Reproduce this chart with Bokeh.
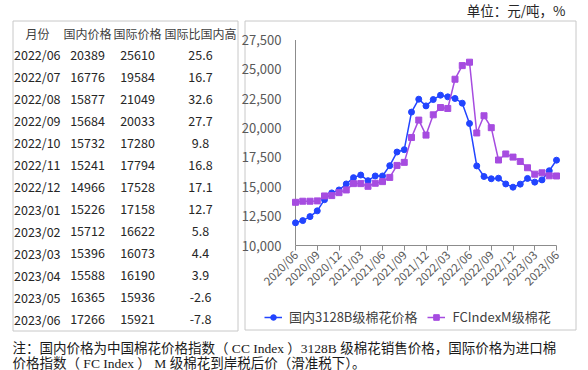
import math
from bokeh.plotting import figure
from bokeh.models import Range1d, FixedTicker, NumeralTickFormatter
from bokeh.core.properties import value
from bokeh.embed import file_html
from bokeh.resources import INLINE

# ---------------- data ----------------
table_header = ["月份", "国内价格", "国际价格", "国际比国内高"]
table_months = ["2022/06", "2022/07", "2022/08", "2022/09", "2022/10", "2022/11", "2022/12",
                "2023/01", "2023/02", "2023/03", "2023/04", "2023/05", "2023/06"]
table_domestic = [20389, 16776, 15877, 15684, 15732, 15241, 14966, 15226, 15712, 15396, 15588, 16365, 17266]
table_intl = [25610, 19584, 21049, 20033, 17280, 17794, 17528, 17158, 16622, 16073, 16190, 15936, 15921]
table_diff = ["25.6", "16.7", "32.6", "27.7", "9.8", "16.8", "17.1", "12.7", "5.8", "4.4", "3.9", "-2.6", "-7.8"]

# chart series 2020/06 .. 2022/05, then the table months
domestic_early = [11930, 12120, 12460, 12950, 13900, 14480, 14730, 15240, 15780, 16000, 15520, 15920,
                  15920, 16800, 17960, 18160, 21360, 22460, 21890, 22430, 22800, 22660, 22520, 22120]
intl_early = [13680, 13770, 13770, 13800, 14220, 14250, 14500, 14730, 15270, 15270, 15040, 15300,
              15440, 15800, 16820, 17080, 19200, 20680, 19400, 21130, 21750, 21670, 24160, 25320]
domestic = domestic_early + table_domestic
international = intl_early + table_intl
month_idx = list(range(len(domestic)))

x_tick_labels = ["2020/06", "2020/09", "2020/12", "2021/03", "2021/06", "2021/09", "2021/12",
                 "2022/03", "2022/06", "2022/09", "2022/12", "2023/03", "2023/06"]
x_ticks = [3 * i for i in range(len(x_tick_labels))]
y_ticks = [10000, 12500, 15000, 17500, 20000, 22500, 25000, 27500]

series_names = ["国内3128B级棉花价格", "FCIndexM级棉花"]
unit_text = "单位：元/吨，%"
note_lines = ["注：国内价格为中国棉花价格指数（ CC Index ）3128B 级棉花销售价格，国际价格为进口棉",
              "价格指数（ FC Index ） M 级棉花到岸税后价（滑准税下）。"]

# ---------------- styling / layout constants ----------------
W, H = 588, 370
BLUE = "#2244ff"
PURPLE = "#a64ce0"
CJK = "Noto Sans CJK SC"
SERIF = "Liberation Serif, Noto Sans CJK SC"
AXIS_GRAY = "#8c8c8c"
BOX_GRAY = "#c8c8c8"

# plot-area anchors in canvas pixels
X0_PX, X1_PX = 295.0, 556.0      # first / last month
YB_PX, YT_PX = 245.0, 39.5       # lowest / highest y tick
n_span = x_ticks[-1] - x_ticks[0]
xs = (X1_PX - X0_PX) / n_span
x_lo = x_ticks[0] - X0_PX / xs
x_hi = x_ticks[0] + (W - X0_PX) / xs
ys_ = (YB_PX - YT_PX) / (y_ticks[-1] - y_ticks[0])
y_hi = y_ticks[-1] + YT_PX / ys_
y_lo = y_ticks[0] - (H - YB_PX) / ys_

p = figure(width=W, height=H, x_range=Range1d(x_lo, x_hi), y_range=Range1d(y_lo, y_hi),
           output_backend="svg", toolbar_location=None, min_border=0, title=None,
           outline_line_color=None)
p.grid.visible = False
p.extra_x_ranges = {"px": Range1d(0, W)}
p.extra_y_ranges = {"py": Range1d(H, 0)}
PX = dict(x_range_name="px", y_range_name="py")

# ---------------- axes (real Bokeh axes placed at fixed locations) ----------------
p.yaxis.fixed_location = x_ticks[0]
p.yaxis.ticker = FixedTicker(ticks=y_ticks)
p.yaxis.formatter = NumeralTickFormatter(format="0,0")
p.yaxis.axis_line_color = None
p.yaxis.major_tick_line_color = None
p.yaxis.minor_tick_line_color = None
p.yaxis.major_label_standoff = 8
p.yaxis.major_label_text_font = CJK
p.yaxis.major_label_text_font_size = "13px"
p.yaxis.major_label_text_color = "#595959"

p.xaxis.fixed_location = y_ticks[0]
p.xaxis.ticker = FixedTicker(ticks=x_ticks)
p.xaxis.major_label_overrides = {t: l for t, l in zip(x_ticks, x_tick_labels)}
p.xaxis.major_label_orientation = math.pi / 4
p.xaxis.axis_line_color = None
p.xaxis.major_tick_in = 0
p.xaxis.major_tick_out = 5
p.xaxis.major_tick_line_color = AXIS_GRAY
p.xaxis.minor_tick_line_color = None
p.xaxis.major_label_standoff = 2
p.xaxis.major_label_text_font = CJK
p.xaxis.major_label_text_font_size = "11.5px"
p.xaxis.major_label_text_color = "#595959"

# ---------------- boxes ----------------
p.quad(left=[12.5, 244.5], right=[237.5, 575.5], top=[20.5, 20.5], bottom=[330.5, 329.5],
       fill_color=None, line_color=BOX_GRAY, line_width=1, **PX)

# axis lines spanning exactly the tick extents
p.segment(x0=[x_ticks[0], x_ticks[0]], y0=[y_ticks[0], y_ticks[0]],
          x1=[x_ticks[0], x_ticks[-1]], y1=[y_ticks[-1], y_ticks[0]],
          line_color=AXIS_GRAY, line_width=1)

# ---------------- series ----------------
p.line(month_idx, domestic, line_color=BLUE, line_width=1.5, legend_label=series_names[0])
p.scatter(month_idx, domestic, marker="circle", size=6, fill_color=BLUE, line_color=BLUE,
          legend_label=series_names[0])
p.line(month_idx, international, line_color=PURPLE, line_width=1.5, legend_label=series_names[1])
p.scatter(month_idx, international, marker="square", size=6, fill_color=PURPLE, line_color=PURPLE,
          legend_label=series_names[1])

leg = p.legend[0]
leg.location = (264, 44)
leg.orientation = "horizontal"
leg.border_line_color = None
leg.background_fill_alpha = 0
leg.padding = 2
leg.spacing = 10
leg.glyph_width = 18
leg.glyph_height = 14
leg.label_standoff = 7
leg.label_text_font = CJK
leg.label_text_font_size = "13px"
leg.label_text_color = "#404040"

# ---------------- table ----------------
p.text(x=[37, 87, 137, 200], y=[33] * 4, text=table_header, text_align="center",
       text_baseline="middle", text_font=value(CJK), text_font_size="12px", text_color="#404040", **PX)
row_y = [54 + 22.08 * i for i in range(len(table_months))]
n = len(row_y)
num_style = dict(text_baseline="middle", text_font=value(CJK), text_font_size="12.5px",
                 text_color="#262626")
p.text(x=[13.5] * n, y=row_y, text=table_months, text_align="left", **num_style, **PX)
p.text(x=[87] * n, y=row_y, text=[str(v) for v in table_domestic], text_align="center",
       **num_style, **PX)
p.text(x=[137] * n, y=row_y, text=[str(v) for v in table_intl], text_align="center",
       **num_style, **PX)
p.text(x=[200] * n, y=row_y, text=table_diff, text_align="center", **num_style, **PX)

# ---------------- unit & note ----------------
p.text(x=[565], y=[9], text=[unit_text], text_align="right", text_baseline="middle",
       text_font=value(CJK), text_font_size="13.5px", text_color="#262626", **PX)
p.text(x=[12, 12], y=[348, 363], text=note_lines, text_align="left", text_baseline="middle",
       text_font=value(SERIF), text_font_size="13.5px", text_color="#1a1a1a", **PX)

open("out.html", "w").write(file_html(p, INLINE))
